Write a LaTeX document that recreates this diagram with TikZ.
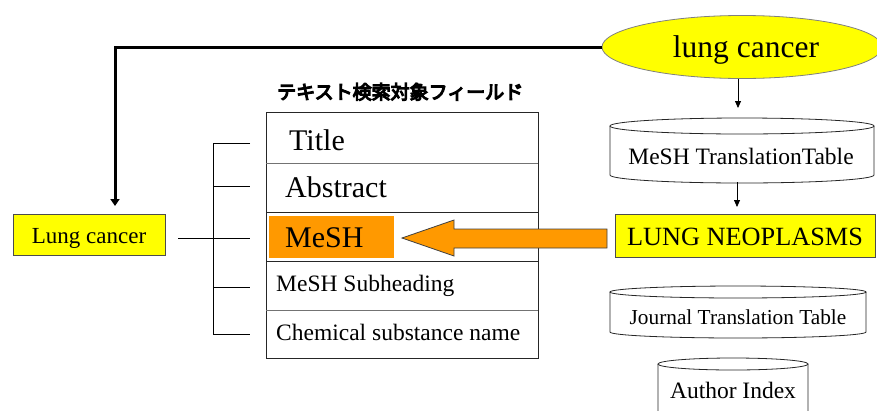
\documentclass[tikz,border=0pt]{standalone}
\usepackage{fontspec}
\setmainfont{Liberation Serif}
\newfontfamily\jpfont{Noto Sans CJK JP}[FakeBold=6]
\usetikzlibrary{shapes.geometric,arrows.meta}
\definecolor{ylw}{HTML}{FFFF00}
\definecolor{org}{HTML}{FF9900}
\newcommand\fs[1]{\fontsize{#1}{#1}\selectfont}
\newcommand\mycyl[5]{%
  \draw[cylline] (#1-#2,#3) -- (#1-#2,#4) arc[start angle=180,end angle=360,x radius=#2pt,y radius=#5pt] -- (#1+#2,#3);
  \draw[cylline] (#1,#3) ellipse[x radius=#2pt,y radius=#5pt];}
\begin{document}
\begin{tikzpicture}[x=1pt,y=-1pt,
  cylline/.style={draw=black!85,line width=0.8pt},
  txt/.style={inner sep=0pt,anchor=base west},
  ctxt/.style={inner sep=0pt,anchor=base},
  thin/.style={draw=black,line width=0.8pt},
  thinarrow/.style={draw=black,line width=0.8pt,-{Triangle[width=6pt,length=7pt]}},
  boldarrow/.style={draw=black,line width=3pt,-{Triangle[width=9pt,length=7pt]}},
  ybox/.style={draw=black!70,fill=ylw,line width=0.9pt,inner sep=0pt}]
\useasboundingbox (0,0) rectangle (877,410);

% ellipse
\node[ellipse,draw=black!50,fill=ylw,line width=0.8pt,minimum width=280pt,minimum height=63pt,inner sep=0pt] (lc) at (742,47) {};
\node[ctxt,font=\fs{31.5}] (lct) at (746,57) {lung cancer};

% heading
\node[txt,font=\fs{19}\jpfont] (head) at (277,99) {テキスト検索対象フィールド};

% table
\coordinate (tNW) at (266,112);
\coordinate (tSE) at (538,358);
\draw[draw=black!85,line width=0.8pt] (tNW) rectangle (tSE);
\draw[draw=black!55,line width=0.8pt] (266,163) -- (538,163);
\draw[draw=black!85,line width=0.8pt] (266,212) -- (538,212);
\draw[draw=black!85,line width=0.8pt] (266,261) -- (538,261);
\draw[draw=black!55,line width=0.8pt] (266,310) -- (538,310);
\node[fill=org,inner sep=0pt,minimum width=125pt,minimum height=42pt] (mesh) at (331.5,237) {};
\node[txt,font=\fs{30}] (tTitle) at (289,150) {Title};
\node[txt,font=\fs{30}] (tAbs) at (285,197) {Abstract};
\node[txt,font=\fs{30}] (tMesh) at (285,247) {MeSH};
\node[txt,font=\fs{23.5}] (tSub) at (276,291) {MeSH Subheading};
\node[txt,font=\fs{23.5}] (tChem) at (276,340) {Chemical substance name};

% bracket
\coordinate (b1) at (213,143);
\coordinate (b5) at (213,334);
\draw[thin] (250,143) -- (b1) -- (b5) -- (250,334);
\draw[thin] (213,186) -- (250,186);
\draw[thin] (213,287) -- (250,287);

% Lung cancer box
\node[ybox,minimum width=152pt,minimum height=41pt] (lcbox) at (89,234.5) {};
\node[ctxt,font=\fs{23}] (lcboxt) at (89,243) {Lung cancer};
\coordinate (bm) at (178,238);
\draw[thin] (bm) -- (250,238);

% bold arrow
\coordinate (corner) at (115,47);
\draw[boldarrow] (lc.west) -- (corner) -- (115,206);

% MeSH translation table cylinder
\mycyl{742}{132}{126}{175}{8}
\coordinate (mttTop) at (738,108);
\coordinate (mttBot) at (737,182);
\node[ctxt,font=\fs{23.5}] (mtt) at (741,164) {MeSH TranslationTable};
\draw[thinarrow] (lc.south -| mttTop) -- (mttTop);

% LUNG NEOPLASMS
\node[ybox,minimum width=260pt,minimum height=43pt] (neo) at (745,235.5) {};
\node[ctxt,font=\fs{26.3}] (neot) at (745,245) {LUNG NEOPLASMS};
\draw[thinarrow] (mttBot) -- (737,207);

% orange arrow
\draw[fill=org,draw=black!75,line width=0.8pt] (402,238) -- (454,220) -- (454,229) -- (607,229) -- (607,248) -- (454,248) -- (454,256) -- cycle;

% Journal translation table
\mycyl{738}{128}{292}{332}{6}
\node[ctxt,font=\fs{21.3}] (jtt) at (738,324) {Journal Translation Table};

% Author index
\mycyl{733}{75}{364}{420}{6}
\node[ctxt,font=\fs{23.5}] (ai) at (733,398) {Author Index};
\end{tikzpicture}
\end{document}
